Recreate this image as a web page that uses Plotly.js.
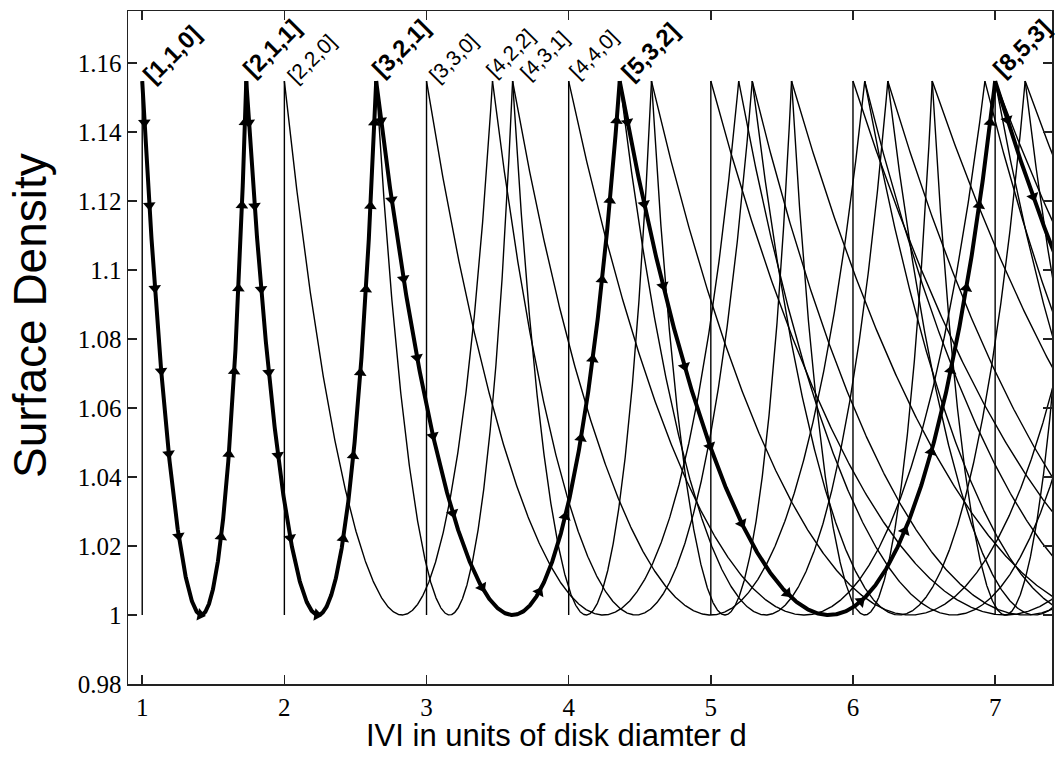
<!DOCTYPE html>
<html><head><meta charset="utf-8">
<script src="https://cdn.plot.ly/plotly-3.0.1.min.js"></script>
<style>html,body{margin:0;padding:0;background:#fff}#chart{width:1055px;height:757px}</style>
</head><body><div id="chart"></div>
<script>
// ---- data ----
// axis ranges
const xRange = [0.9, 7.4];
const yRange = [0.98, 1.175];
// rhombic (two-contact) families given by lattice indices (m, n); thick = Fibonacci path
const thickM = [1, 2, 3, 5, 8];
const thickN = [1, 1, 2, 3, 5];
const thinM = [3,4,5,6,7, 2,4,5,6,7,8, 3,4,6,7,8, 4,5,6,7,8, 5,6,7, 6,7,8, 7];
const thinN = [1,1,1,1,1, 2,2,2,2,2,2, 3,3,3,3,3, 4,4,4,4,4, 5,5,5, 6,6,6, 7];
// achiral [l,l,0] structures: vertical segments
const verticalX = [1, 2, 3, 4, 5, 6, 7];
// peak labels [l,m,n]
const labelText = ['[1,1,0]','[2,1,1]','[2,2,0]','[3,2,1]','[3,3,0]','[4,2,2]','[4,3,1]','[4,4,0]','[5,3,2]','[8,5,3]'];
const labelM = [1, 1, 2, 2, 3, 2, 3, 4, 3, 5];
const labelN = [0, 1, 0, 1, 0, 2, 1, 0, 2, 3];
const labelBold = [true, true, false, true, false, false, false, false, true, true];
// ticks and titles
const xTickVals = [1, 2, 3, 4, 5, 6, 7];
const yTickVals = [0.98, 1, 1.02, 1.04, 1.06, 1.08, 1.1, 1.12, 1.14, 1.16];
const yTickText = ['0.98', '1', '1.02', '1.04', '1.06', '1.08', '1.1', '1.12', '1.14', '1.16'];
const xTitle = 'IVI in units of disk diamter d';
const yTitle = 'Surface Density';

// ---- style (not data) ----
const labelDx = [29, 25, 27, 24, 26, 17, 31, 24, 30, 26];
const labelDy = [27, 33, 23, 33, 23, 28, 26, 27, 30, 33];
const margin = {l: 128, r: 3, t: 11, b: 73};
const W = 1055, H = 757;
const arrowSpacing = 82;

const triDensity = 2 / Math.sqrt(3);

// curve of a rhombic family (m,n): angle between contact vectors from 120 to 60 deg
function family(m, n) {
  const xs = [], ys = [];
  for (let i = 0; i <= 600; i++) {
    const th = (120 - i * 0.1) * Math.PI / 180;
    xs.push(Math.sqrt(m * m + n * n + 2 * m * n * Math.cos(th)));
    ys.push(1 / Math.sin(th));
  }
  return {xs, ys};
}

const traces = [];
// vertical lines
const vx = [], vy = [];
verticalX.forEach(v => { vx.push(v, v, null); vy.push(1, triDensity, null); });
traces.push({x: vx, y: vy, mode: 'lines', line: {color: '#000', width: 1.4}, hoverinfo: 'skip', showlegend: false});
// thin curves
thinM.forEach((m, i) => {
  const c = family(m, thinN[i]);
  traces.push({x: c.xs, y: c.ys, mode: 'lines', line: {color: '#000', width: 1.4}, hoverinfo: 'skip', showlegend: false});
});
// thick curves + arrows
const pw = W - margin.l - margin.r, ph = H - margin.t - margin.b;
const sx = pw / (xRange[1] - xRange[0]), sy = ph / (yRange[1] - yRange[0]);
const ax = [], ay = [], aa = [];
thickM.forEach((m, i) => {
  const c = family(m, thickN[i]);
  traces.push({x: c.xs, y: c.ys, mode: 'lines', line: {color: '#000', width: 4}, hoverinfo: 'skip', showlegend: false});
  const s = [0];
  for (let k = 1; k < c.xs.length; k++) {
    const dx = (c.xs[k] - c.xs[k-1]) * sx, dy = (c.ys[k] - c.ys[k-1]) * sy;
    s.push(s[k-1] + Math.hypot(dx, dy));
  }
  const total = s[s.length - 1];
  const nA = Math.max(1, Math.round(total / arrowSpacing));
  let k = 1;
  for (let j = 0; j < nA; j++) {
    const target = (j + 0.5) * total / nA;
    while (k < s.length - 1 && s[k] < target) k++;
    if (c.xs[k] > xRange[1]) continue;
    const f = (target - s[k-1]) / (s[k] - s[k-1]);
    const x = c.xs[k-1] + f * (c.xs[k] - c.xs[k-1]);
    const y = c.ys[k-1] + f * (c.ys[k] - c.ys[k-1]);
    const dxp = (c.xs[k] - c.xs[k-1]) * sx, dyp = -(c.ys[k] - c.ys[k-1]) * sy;
    ax.push(x); ay.push(y); aa.push(Math.atan2(dxp, -dyp) * 180 / Math.PI);
  }
});
traces.push({x: ax, y: ay, mode: 'markers', marker: {symbol: 'triangle-up', size: 11, color: '#000', angle: aa}, hoverinfo: 'skip', showlegend: false});

const annotations = labelText.map((t, i) => {
  const m = labelM[i], n = labelN[i];
  return {
    x: Math.sqrt(m * m + n * n + m * n), y: triDensity, xref: 'x', yref: 'y',
    text: labelBold[i] ? '<b>' + t + '</b>' : t,
    showarrow: false, textangle: -45, xanchor: 'center', yanchor: 'middle',
    xshift: labelDx[i], yshift: labelDy[i],
    font: {family: 'Liberation Sans, Arial, sans-serif', size: labelBold[i] ? 24 : 21, color: '#000'}
  };
});
// axis titles (placed as in the reference, which is off-centre)
annotations.push({
  text: xTitle, xref: 'paper', yref: 'paper', x: 0.464, y: -0.077,
  xanchor: 'center', yanchor: 'middle', showarrow: false,
  font: {family: 'Liberation Sans, Arial, sans-serif', size: 31, color: '#000'}
});
annotations.push({
  text: yTitle, xref: 'paper', yref: 'paper', x: -0.106, y: 0.547, textangle: -90,
  xanchor: 'center', yanchor: 'middle', showarrow: false,
  font: {family: 'Liberation Sans, Arial, sans-serif', size: 46, color: '#000'}
});

const axisCommon = {
  showline: true, linecolor: '#222', linewidth: 1.5, mirror: 'ticks',
  ticks: 'inside', ticklen: 9, tickwidth: 1.5, tickcolor: '#222',
  showgrid: false, zeroline: false,
  tickfont: {family: 'Liberation Serif, Times New Roman, serif', size: 25, color: '#000'}
};

const layout = {
  width: W, height: H, margin: margin,
  paper_bgcolor: '#fff', plot_bgcolor: '#fff',
  xaxis: Object.assign({}, axisCommon, {range: xRange, tickvals: xTickVals, ticktext: xTickVals.map(String)}),
  yaxis: Object.assign({}, axisCommon, {range: yRange, tickvals: yTickVals, ticktext: yTickText}),
  annotations: annotations,
  showlegend: false
};

Plotly.newPlot('chart', traces, layout, {staticPlot: true, displayModeBar: false});
</script>
</body></html>
